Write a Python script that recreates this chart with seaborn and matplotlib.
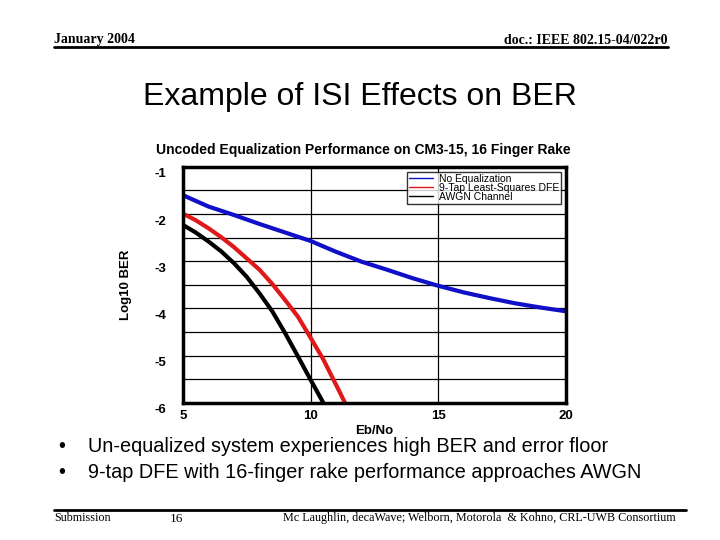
import matplotlib
matplotlib.use("Agg")
import matplotlib.pyplot as plt
import matplotlib.transforms as mtransforms
import pandas as pd
import seaborn as sns

# values (Eb/No in dB, log10 BER)
noeq_x = [5, 6, 7, 8, 9, 10, 11, 12, 13, 14, 15, 16, 17, 18, 19, 20]
noeq_y = [-1.60, -1.84, -2.02, -2.21, -2.39, -2.57, -2.80, -3.01, -3.18, -3.36,
          -3.52, -3.66, -3.78, -3.89, -3.98, -4.06]
dfe_x = [5, 5.5, 6, 6.5, 7, 7.5, 8, 8.5, 9, 9.5, 10, 10.5, 11, 11.35]
dfe_y = [-1.99, -2.13, -2.30, -2.49, -2.70, -2.94, -3.18, -3.48, -3.82, -4.17,
         -4.62, -5.08, -5.62, -6.0]
awgn_x = [5, 5.5, 6, 6.5, 7, 7.5, 8, 8.5, 9, 9.5, 10, 10.5]
awgn_y = [-2.23, -2.39, -2.58, -2.79, -3.04, -3.33, -3.68, -4.06, -4.52, -5.01,
          -5.51, -6.0]

series = ["No Equalization", "9-Tap Least-Squares DFE", "AWGN Channel"]
colors = ["#1010c8", "#e01818", "#000000"]
x_ticks = [5, 10, 15, 20]
y_ticks = [-1, -2, -3, -4, -5, -6]

df = pd.concat([
    pd.DataFrame({"Eb/No": noeq_x, "ber": noeq_y, "curve": series[0]}),
    pd.DataFrame({"Eb/No": dfe_x, "ber": dfe_y, "curve": series[1]}),
    pd.DataFrame({"Eb/No": awgn_x, "ber": awgn_y, "curve": series[2]}),
])

sns.set_theme(style="white")
plt.rcParams["font.family"] = ["Liberation Sans", "DejaVu Sans"]
plt.rcParams["text.color"] = "black"
plt.rcParams["axes.labelcolor"] = "black"
plt.rcParams["xtick.color"] = "black"
plt.rcParams["ytick.color"] = "black"
plt.rcParams["axes.unicode_minus"] = False

fig = plt.figure(figsize=(7.2, 5.4), dpi=100)
ax = fig.add_axes([0.254, 0.254, 0.532, 0.437])

sns.lineplot(data=df, x="Eb/No", y="ber", hue="curve", hue_order=series,
             palette=colors, linewidth=3, sort=False, estimator=None,
             legend=False, ax=ax)

ax.set_xlim(5, 20)
ax.set_ylim(-6, -1)
ax.set_xticks(x_ticks)
ax.set_yticks(y_ticks)
ax.set_yticks([v - 0.5 for v in y_ticks[:-1]], minor=True)
ax.grid(True, which="both", color="black", linewidth=0.9)
ax.tick_params(axis="both", which="both", length=0, labelsize=9.5)
ax.tick_params(axis="y", pad=12)
ax.tick_params(axis="x", pad=5)
for lab in ax.get_xticklabels() + ax.get_yticklabels():
    lab.set_fontweight("bold")
# y labels sit slightly low in the original
off = mtransforms.ScaledTranslation(0, -6 / 100, fig.dpi_scale_trans)
for lab in ax.get_yticklabels():
    lab.set_transform(lab.get_transform() + off)
for s in ax.spines.values():
    s.set_color("black")
    s.set_linewidth(2.5)

ax.set_xlabel("Eb/No", fontsize=9.5, fontweight="bold", labelpad=2)
ax.set_ylabel("Log10 BER", fontsize=9.5, fontweight="bold", labelpad=16)
ax.set_title("Uncoded Equalization Performance on CM3-15, 16 Finger Rake",
             fontsize=10, fontweight="bold", pad=9, x=0.47)

handles = [plt.Line2D([], [], color=c, linewidth=1) for c in colors]
leg = ax.legend(handles, series, loc="upper right", bbox_to_anchor=(0.988, 0.98),
                fontsize=7.5, frameon=True, fancybox=False, handlelength=2.3,
                borderpad=0.2, labelspacing=-0.1, handletextpad=0.6,
                borderaxespad=0)
leg.get_frame().set_edgecolor("black")
leg.get_frame().set_linewidth(1)

# slide header / footer
serif = ["Liberation Serif", "DejaVu Serif"]
fig.text(54 / 720, 1 - 39 / 540, "January 2004", family=serif, fontsize=10,
         fontweight="bold", va="center", ha="left")
fig.text(668 / 720, 1 - 40 / 540, "doc.: IEEE 802.15-04/022r0", family=serif,
         fontsize=10, fontweight="bold", va="center", ha="right")
fig.add_artist(plt.Line2D([54 / 720, 668 / 720], [1 - 47 / 540] * 2,
                          color="black", linewidth=2))
fig.text(360 / 720, 1 - 97 / 540, "Example of ISI Effects on BER",
         fontsize=23, va="center", ha="center")
fig.text(58 / 720, 1 - 446 / 540, "\u2022", fontsize=14.3, va="center")
fig.text(88 / 720, 1 - 446 / 540,
         "Un-equalized system experiences high BER and error floor",
         fontsize=14.3, va="center")
fig.text(58 / 720, 1 - 472 / 540, "\u2022", fontsize=14.3, va="center")
fig.text(88 / 720, 1 - 472 / 540,
         "9-tap DFE with 16-finger rake performance approaches AWGN",
         fontsize=14.3, va="center")
fig.add_artist(plt.Line2D([54 / 720, 686 / 720], [1 - 510 / 540] * 2,
                          color="black", linewidth=2))
fig.text(54 / 720, 1 - 518 / 540, "Submission", family=serif, fontsize=8.7,
         va="center", ha="left")
fig.text(170 / 720, 1 - 519 / 540, "16", family=serif, fontsize=9.5,
         va="center", ha="left")
fig.text(676 / 720, 1 - 518 / 540,
         "Mc Laughlin, decaWave; Welborn, Motorola  & Kohno, CRL-UWB Consortium",
         family=serif, fontsize=8.7, va="center", ha="right")

fig.savefig("out.png", dpi=100, facecolor="white")
plt.close(fig)
